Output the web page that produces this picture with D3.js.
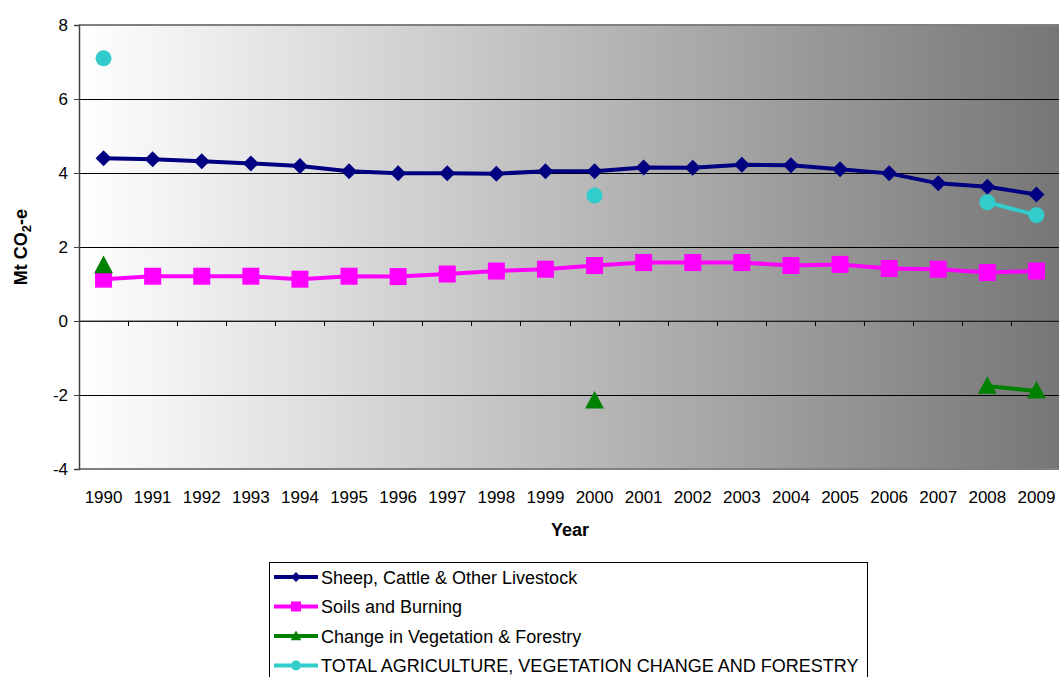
<!DOCTYPE html>
<html>
<head>
<meta charset="utf-8">
<script src="https://cdn.jsdelivr.net/npm/d3@7"></script>
<style>
  html, body { margin: 0; padding: 0; background: #fff; }
  svg { display: block; font-family: "Liberation Sans", Arial, sans-serif; }
</style>
</head>
<body>
<svg id="chart" width="1059" height="677"></svg>
<script>
// Emissions by source, Mt CO2-e
const years = ["1990","1991","1992","1993","1994","1995","1996","1997","1998","1999",
               "2000","2001","2002","2003","2004","2005","2006","2007","2008","2009"];
const livestock = [4.40,4.37,4.32,4.26,4.19,4.05,3.99,3.99,3.98,4.05,
                   4.05,4.15,4.14,4.22,4.21,4.10,3.99,3.72,3.63,3.42];
const soils = [1.13,1.21,1.21,1.21,1.13,1.21,1.20,1.27,1.35,1.40,
               1.50,1.58,1.58,1.58,1.50,1.53,1.42,1.40,1.31,1.35];
const vegetation = [1.50,null,null,null,null,null,null,null,null,null,
                    -2.16,null,null,null,null,null,null,null,-1.76,-1.89];
const total = [7.10,null,null,null,null,null,null,null,null,null,
               3.39,null,null,null,null,null,null,null,3.21,2.86];
const yTicks = [-4,-2,0,2,4,6,8];

const seriesList = [
  { name: "Sheep, Cattle & Other Livestock", values: livestock, color: "#000080", marker: "diamond" },
  { name: "Soils and Burning", values: soils, color: "#ff00ff", marker: "square" },
  { name: "Change in Vegetation & Forestry", values: vegetation, color: "#008000", marker: "triangle" },
  { name: "TOTAL AGRICULTURE, VEGETATION CHANGE AND FORESTRY", values: total, color: "#33cccc", marker: "circle" }
];

const svg = d3.select("#chart");
const plotL = 79, plotR = 1061, plotT = 25, plotB = 469;

const x = d3.scaleBand().domain(years).range([plotL, plotR]).padding(0);
const y = d3.scaleLinear().domain([-4, 8]).range([plotB, plotT]);

// plot background: white to gray gradient
const defs = svg.append("defs");
const grad = defs.append("linearGradient").attr("id", "bg").attr("x1", "0").attr("x2", "1").attr("y1", "0").attr("y2", "0");
grad.append("stop").attr("offset", "0").attr("stop-color", "#ffffff");
grad.append("stop").attr("offset", "1").attr("stop-color", "#767676");
svg.append("rect").attr("x", plotL).attr("y", plotT).attr("width", plotR - plotL).attr("height", plotB - plotT)
  .attr("fill", "url(#bg)");

// horizontal gridlines
svg.append("g").selectAll("line").data(yTicks).join("line")
  .attr("x1", plotL).attr("x2", plotR)
  .attr("y1", d => y(d)).attr("y2", d => y(d))
  .attr("stroke", d => (d === 8 || d === -4) ? "#808080" : "#000")
  .attr("stroke-width", d => (d === 8 || d === -4) ? 1.5 : 1)
  .attr("shape-rendering", "crispEdges");

// y axis
const yAxis = svg.append("g").attr("transform", `translate(${plotL},0)`)
  .call(d3.axisLeft(y).tickValues(yTicks).tickSize(5).tickPadding(6).tickFormat(d => String(d)));
yAxis.select(".domain").attr("stroke", "#404040").attr("stroke-width", 1.5);
yAxis.selectAll(".tick line").attr("stroke", "#404040");
yAxis.selectAll("text").attr("font-size", 17).attr("fill", "#000")
  .attr("font-family", "'Liberation Sans', Arial, sans-serif");

// x axis along zero with ticks on category boundaries
const xAxisG = svg.append("g").attr("transform", `translate(0,${y(0)})`);
xAxisG.append("line").attr("x1", plotL).attr("x2", plotR).attr("y1", 0).attr("y2", 0)
  .attr("stroke", "#404040").attr("stroke-width", 1);
xAxisG.selectAll("line.tk").data(years.slice(1)).join("line").attr("class", "tk")
  .attr("x1", d => x(d)).attr("x2", d => x(d)).attr("y1", 0).attr("y2", 5)
  .attr("stroke", "#000").attr("shape-rendering", "crispEdges");

// category labels below the plot
svg.append("g").selectAll("text").data(years).join("text")
  .attr("x", d => x(d) + x.bandwidth() / 2).attr("y", 503)
  .attr("text-anchor", "middle").attr("font-size", 17).attr("fill", "#000")
  .text(d => d);

// axis titles
svg.append("text").attr("x", (plotL + plotR) / 2).attr("y", 536).attr("text-anchor", "middle")
  .attr("font-size", 18).attr("font-weight", "bold").text("Year");
const yt = svg.append("text").attr("transform", `translate(27,${(plotT + plotB) / 2}) rotate(-90)`)
  .attr("text-anchor", "middle").attr("font-size", 18).attr("font-weight", "bold");
yt.append("tspan").text("Mt CO");
yt.append("tspan").attr("font-size", 13).attr("dy", 4).text("2");
yt.append("tspan").attr("dy", -4).text("-e");

// marker shapes
function markerPath(type, s) {
  switch (type) {
    case "diamond": return `M0,${-s}L${s},0L0,${s}L${-s},0Z`;
    case "square": return `M${-s},${-s}H${s}V${s}H${-s}Z`;
    case "triangle": return `M0,${-s * 1.1}L${s * 1.05},${s * 0.85}L${-s * 1.05},${s * 0.85}Z`;
    default: return d3.arc()({ innerRadius: 0, outerRadius: s, startAngle: 0, endAngle: 2 * Math.PI });
  }
}
const markerSize = { diamond: 8, square: 8.5, triangle: 9, circle: 8 };

const line = d3.line()
  .defined(d => d.v !== null)
  .x(d => x(d.year) + x.bandwidth() / 2)
  .y(d => y(d.v));

const plot = svg.append("g");
seriesList.forEach(s => {
  const pts = years.map((yr, i) => ({ year: yr, v: s.values[i] }));
  plot.append("path").datum(pts).attr("d", line)
    .attr("fill", "none").attr("stroke", s.color).attr("stroke-width", 4).attr("stroke-linejoin", "round");
  plot.append("g").selectAll("path").data(pts.filter(d => d.v !== null)).join("path")
    .attr("transform", d => `translate(${x(d.year) + x.bandwidth() / 2},${y(d.v)})`)
    .attr("d", markerPath(s.marker, markerSize[s.marker]))
    .attr("fill", s.color);
});

// legend
const lg = svg.append("g");
lg.append("rect").attr("x", 269.5).attr("y", 562.5).attr("width", 598).attr("height", 130)
  .attr("fill", "#fff").attr("stroke", "#000").attr("stroke-width", 1);
seriesList.forEach((s, i) => {
  const cy = 577 + i * 29.5;
  lg.append("line").attr("x1", 274).attr("x2", 318).attr("y1", cy).attr("y2", cy)
    .attr("stroke", s.color).attr("stroke-width", 4);
  lg.append("path").attr("transform", `translate(296,${cy})`)
    .attr("d", markerPath(s.marker, 5)).attr("fill", s.color);
  lg.append("text").attr("x", 321).attr("y", cy + 6.5).attr("font-size", 18).attr("fill", "#000").text(s.name);
});
</script>
</body>
</html>
